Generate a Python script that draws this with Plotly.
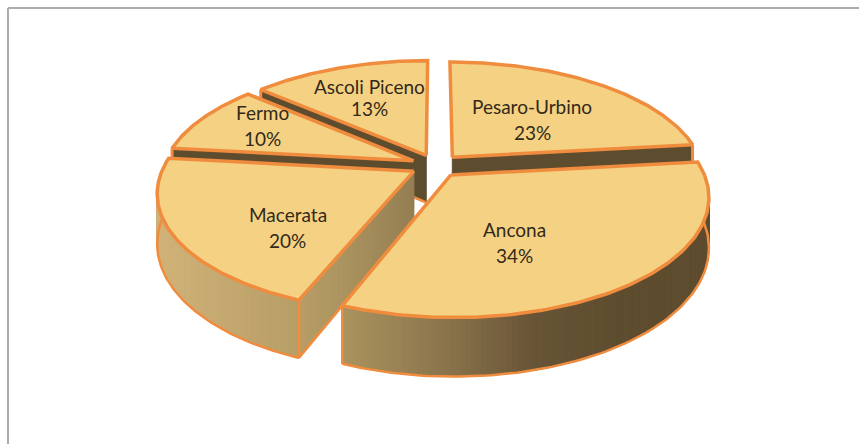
import numpy as np
import plotly.graph_objects as go

# ---- data -------------------------------------------------------------
provinces = ["Pesaro-Urbino", "Ancona", "Macerata", "Fermo", "Ascoli Piceno"]
shares = [23, 34, 20, 10, 13]

# ---- 3D pie projection -------------------------------------------------
CX, CY = 436.0, 165.6   # screen position of the pie axis
RX, RY = 250.0, 114.3   # radii of the disc
PERSP = 0.173           # perspective strength
DEPTH = 48.0            # disc thickness
EXPLODE = 0.10
# the 3D view bends the slice boundaries slightly (degrees, one per slice start)
VIEW_SHIFT = np.radians([0.0, 0.7, -3.6, -0.7, -2.0])

TOP = "#F5D283"
EDGE = "#F08C3E"
DARK = "#5E4C2F"
WALL_STOPS = [(160, (208, 178, 120)), (300, (182, 157, 102)), (341, (172, 148, 96)),
              (450, (136, 114, 74)), (535, (103, 84, 54)), (620, (94, 76, 47)), (720, (94, 76, 47))]
LABEL_RHO = 0.5
LABEL_NUDGE = [(4, 2), (-18, 16), (-10, 27), (-44, -12), (-12, -11)]
LABEL_GAP = [13, 13, 13, 13, 11]
FONT = "Lato, Carlito, Calibri, sans-serif"
FONT_SIZE = 19
DARK_CUTS = [True, True, False, True, True]


def wall_colour(x):
    xs = [s[0] for s in WALL_STOPS]
    rgb = [float(np.interp(x, xs, [s[1][i] for s in WALL_STOPS])) for i in range(3)]
    return "rgb(%d,%d,%d)" % tuple(int(round(c)) for c in rgb)


def project(X, Y, z=0.0):
    """Model plane (X right, Y towards viewer) to pixel coordinates."""
    X, Y = np.asarray(X, float), np.asarray(Y, float)
    s = 1.0 / (1.0 - PERSP * Y)
    return CX + RX * X * s, CY + (RY * Y + z) * s


def poly(fig, xs, ys, fill, line=None, width=1.0):
    fig.add_trace(go.Scatter(
        x=list(xs), y=list(ys), mode="lines", fill="toself", fillcolor=fill,
        line=dict(color=line or fill, width=width),
        hoverinfo="skip", showlegend=False))


def stroke(fig, xs, ys, width=2.5):
    fig.add_trace(go.Scatter(
        x=list(xs), y=list(ys), mode="lines", line=dict(color=EDGE, width=width),
        hoverinfo="skip", showlegend=False))


fig = go.Figure()

fractions = np.array(shares, float) / sum(shares)
raw_ends = np.cumsum(fractions) * 2 * np.pi
raw_starts = raw_ends - fractions * 2 * np.pi
mids = (raw_starts + raw_ends) / 2
ox, oy = EXPLODE * np.sin(mids), -EXPLODE * np.cos(mids)
starts = raw_starts + VIEW_SHIFT
ends = np.r_[starts[1:], 2 * np.pi]


def edge_point(i, angle):
    return ox[i] + np.sin(angle), oy[i] - np.cos(angle)


def vertical(i, X, Y, width=2.0):
    x0, y0 = project([X], [Y])
    x1, y1 = project([X], [Y], DEPTH)
    stroke(fig, [x0[0], x1[0]], [y0[0], y1[0]], width)


def cut_face(i, angle):
    ax, ay = ox[i], oy[i]
    rx, ry = edge_point(i, angle)
    if DARK_CUTS[i]:
        x0, y0 = project([ax, rx], [ay, ry])
        x1, y1 = project([rx, ax], [ry, ay], DEPTH)
        poly(fig, list(x0) + list(x1) + [x0[0]], list(y0) + list(y1) + [y0[0]], DARK)
    else:
        ts = np.linspace(0, 1, 25)
        for a, b in zip(ts[:-1], ts[1:]):
            px, py = ax + (rx - ax) * np.array([a, b]), ay + (ry - ay) * np.array([a, b])
            x0, y0 = project(px, py)
            x1, y1 = project(px[::-1], py[::-1], DEPTH)
            poly(fig, list(x0) + list(x1) + [x0[0]], list(y0) + list(y1) + [y0[0]],
                 wall_colour(float(np.mean(x0))))
    x0, y0 = project([ax, rx], [ay, ry], DEPTH)
    stroke(fig, x0, y0, 2.5)
    vertical(i, rx, ry, 3)


for i in [4, 0, 3, 2, 1]:   # painter's order, far slices first
    # cut faces that look towards the viewer
    if np.sin(ends[i]) > 0.01:
        cut_face(i, ends[i])
    if np.sin(starts[i]) < -0.01:
        cut_face(i, starts[i])

    th = np.linspace(starts[i], ends[i], 121)
    X, Y = edge_point(i, th)

    # outer wall: only the part that faces the viewer
    visible = -np.cos(th) > -0.02
    if visible.any():
        vis = np.where(visible)[0]
        for k in vis[:-1]:
            x0, y0 = project(X[k:k + 2], Y[k:k + 2])
            x1, y1 = project(X[k:k + 2][::-1], Y[k:k + 2][::-1], DEPTH)
            poly(fig, list(x0) + list(x1) + [x0[0]], list(y0) + list(y1) + [y0[0]],
                 wall_colour(float(np.mean(x0))))
        bx, by = project(X[vis], Y[vis], DEPTH)
        stroke(fig, bx, by, 2.5)
        vertical(i, X[vis[0]], Y[vis[0]], 2.5)
        vertical(i, X[vis[-1]], Y[vis[-1]], 2.5)

    # top face
    tx, ty = project(np.r_[ox[i], X, ox[i]], np.r_[oy[i], Y, oy[i]])
    poly(fig, tx, ty, TOP, EDGE, 3.5)

shapes = [
    dict(type="line", xref="x", yref="y", x0=8, x1=8, y0=8, y1=444,
         line=dict(color="#A9ADB0", width=2)),
    dict(type="line", xref="x", yref="y", x0=8, x1=859, y0=8, y1=8,
         line=dict(color="#A9ADB0", width=2)),
]

annotations = []
for i, name in enumerate(provinces):
    pct = f"{shares[i]}%"
    lx, ly = project(ox[i] + LABEL_RHO * np.sin(mids[i]), oy[i] - LABEL_RHO * np.cos(mids[i]))
    lx = float(lx) + LABEL_NUDGE[i][0]
    ly = float(ly) + LABEL_NUDGE[i][1]
    for text, dy in ((name, -LABEL_GAP[i]), (pct, LABEL_GAP[i])):
        annotations.append(dict(x=lx, y=ly + dy, text=text, showarrow=False, xref="x", yref="y",
                                xanchor="center", yanchor="middle",
                                font=dict(family=FONT, size=FONT_SIZE, color="#33291A")))

fig.update_layout(
    width=859, height=444, margin=dict(l=0, r=0, t=0, b=0),
    paper_bgcolor="white", plot_bgcolor="white", showlegend=False,
    xaxis=dict(range=[0, 859], visible=False, fixedrange=True),
    yaxis=dict(range=[444, 0], visible=False, fixedrange=True),
    shapes=shapes, annotations=annotations,
)
fig.write_html("out.html", config=dict(displayModeBar=False),
               post_script="document.body.style.margin='0';document.documentElement.style.overflow='hidden';")
